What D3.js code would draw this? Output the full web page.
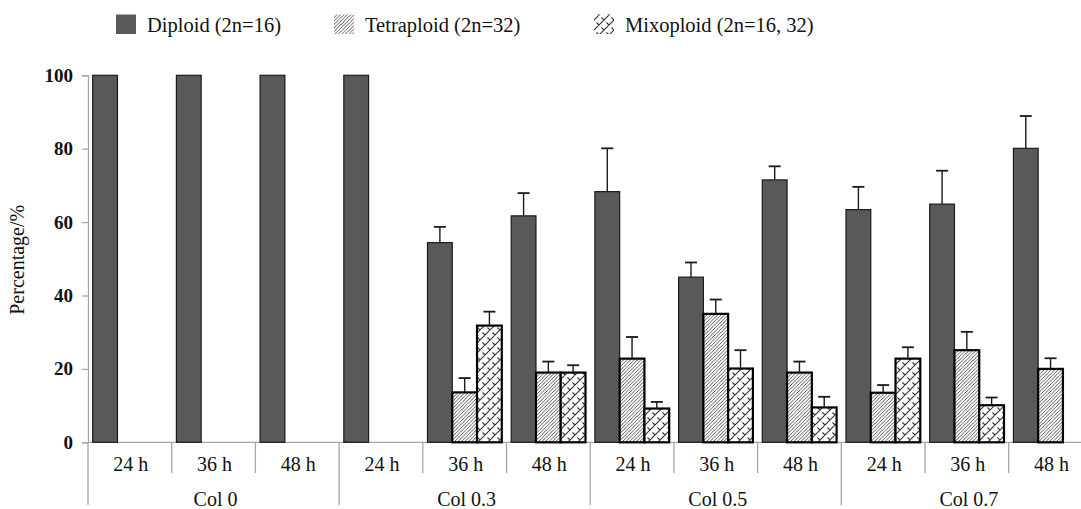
<!DOCTYPE html>
<html>
<head>
<meta charset="utf-8">
<script src="https://cdn.jsdelivr.net/npm/d3@7"></script>
<style>
  html, body { margin: 0; padding: 0; background: #fff; }
  svg { display: block; font-family: "Liberation Serif", "Times New Roman", serif; }
</style>
</head>
<body>
<svg id="chart" width="1081" height="509"></svg>
<script>
// Treatment groups and sampling times
const treatments = ["Col 0", "Col 0.3", "Col 0.5", "Col 0.7"];
const times = ["24 h", "36 h", "48 h"];
const seriesNames = ["Diploid (2n=16)", "Tetraploid (2n=32)", "Mixoploid (2n=16, 32)"];

// Percentages per (treatment, time), ordered Col0 24/36/48, Col0.3 24/36/48, ...
const diploid    = [100, 100, 100, 100, 54.4, 61.7, 68.3, 45.0, 71.5, 63.4, 64.9, 80.1];
const diploidErr = [0, 0, 0, 0, 4.3, 6.2, 11.8, 4.0, 3.7, 6.2, 9.1, 8.8];
const tetraploid    = [0, 0, 0, 0, 13.6, 19.0, 22.8, 35.0, 19.0, 13.5, 25.1, 20.0];
const tetraploidErr = [0, 0, 0, 0, 3.9, 3.0, 5.9, 3.9, 3.0, 2.1, 5.0, 2.9];
const mixoploid    = [0, 0, 0, 0, 31.8, 19.0, 9.2, 20.1, 9.5, 22.8, 10.1, 0];
const mixoploidErr = [0, 0, 0, 0, 3.8, 2.0, 1.8, 5.0, 2.9, 3.1, 2.1, 0];
const yTicks = [0, 20, 40, 60, 80, 100];

const svg = d3.select("#chart");

// Pattern fills for polyploid classes
const defs = svg.append("defs");
const hatch = defs.append("pattern")
  .attr("id", "hatchTetra").attr("patternUnits", "userSpaceOnUse")
  .attr("width", 3.5).attr("height", 3.5);
hatch.append("rect").attr("width", 3.5).attr("height", 3.5).attr("fill", "#fff");
hatch.append("path").attr("d", "M-0.9,0.9 L0.9,-0.9 M0,3.5 L3.5,0 M2.6,4.4 L4.4,2.6")
  .attr("stroke", "#3a3a3a").attr("stroke-width", 0.85);

const weave = defs.append("pattern")
  .attr("id", "weaveMixo").attr("patternUnits", "userSpaceOnUse")
  .attr("width", 10).attr("height", 10);
weave.append("rect").attr("width", 10).attr("height", 10).attr("fill", "#fff");
weave.append("path")
  .attr("d", "M0,10 L10,0 M-5,5 L5,-5 M5,15 L15,5 M2.5,2.5 L5,5 M7.5,7.5 L10,10 M0,0 L-2.5,-2.5 M-2.5,7.5 L0,10")
  .attr("stroke", "#333").attr("stroke-width", 1.1).attr("fill", "none");

// Scales
const margin = { left: 88, top: 75.3, bottom: 442.3 };
const groupKeys = d3.range(12);
const x = d3.scaleBand().domain(groupKeys).range([margin.left, 1092.4]).padding(0);
const xInner = d3.scaleBand().domain(d3.range(3)).range([0, x.bandwidth()])
  .paddingInner(0).paddingOuter(0.19);
const y = d3.scaleLinear().domain([0, 100]).range([margin.bottom, margin.top]);

// Y axis
const yAxis = svg.append("g").attr("transform", `translate(${margin.left},0)`)
  .call(d3.axisLeft(y).tickValues(yTicks).tickSize(6).tickPadding(9));
yAxis.select(".domain").attr("stroke", "#a6a6a6").attr("stroke-width", 1.3);
yAxis.selectAll(".tick line").attr("stroke", "#a6a6a6").attr("stroke-width", 1.3);
yAxis.selectAll(".tick text").attr("font-size", 19).attr("font-weight", "bold")
  .attr("fill", "#111").attr("font-family", "Liberation Serif, serif");

svg.append("text")
  .attr("transform", `translate(24,${(margin.top + margin.bottom) / 2 + 1}) rotate(-90)`)
  .attr("text-anchor", "middle").attr("font-size", 20).attr("fill", "#111")
  .text("Percentage/%");

// X axis: baseline, time ticks, treatment separators
const xg = svg.append("g");
xg.append("line").attr("x1", margin.left).attr("x2", 1092.4)
  .attr("y1", margin.bottom).attr("y2", margin.bottom)
  .attr("stroke", "#a6a6a6").attr("stroke-width", 1.3);
const boundaries = d3.range(13).map(i => i < 12 ? x(i) : x(11) + x.bandwidth());
xg.selectAll("line.sep").data(boundaries).join("line")
  .attr("class", "sep")
  .attr("x1", d => d).attr("x2", d => d)
  .attr("y1", margin.bottom)
  .attr("y2", (d, i) => i % 3 === 0 ? 505 : 473)
  .attr("stroke", "#a6a6a6").attr("stroke-width", 1.3);
xg.selectAll("text.time").data(groupKeys).join("text")
  .attr("class", "time")
  .attr("x", d => x(d) + x.bandwidth() / 2 + 1)
  .attr("y", 471)
  .attr("text-anchor", "middle").attr("font-size", 20).attr("fill", "#111")
  .text(d => times[d % 3]);
xg.selectAll("text.treat").data(treatments).join("text")
  .attr("class", "treat")
  .attr("x", (d, i) => (x(i * 3) + x(i * 3 + 2) + x.bandwidth()) / 2 + 2)
  .attr("y", 506)
  .attr("text-anchor", "middle").attr("font-size", 20).attr("fill", "#111")
  .text(d => d);

// Bars
const series = [
  { values: diploid, errs: diploidErr, fill: "#595959", stroke: "#1a1a1a", sw: 1.2 },
  { values: tetraploid, errs: tetraploidErr, fill: "url(#hatchTetra)", stroke: "#000", sw: 2.2 },
  { values: mixoploid, errs: mixoploidErr, fill: "url(#weaveMixo)", stroke: "#000", sw: 2.2 }
];
const barData = [];
series.forEach((s, si) => {
  s.values.forEach((v, gi) => {
    if (v > 0) barData.push({ si, gi, v, e: s.errs[gi], s });
  });
});

const bars = svg.append("g");
bars.selectAll("rect").data(barData).join("rect")
  .attr("x", d => x(d.gi) + xInner(d.si))
  .attr("y", d => y(d.v))
  .attr("width", xInner.bandwidth())
  .attr("height", d => y(0) - y(d.v))
  .attr("fill", d => d.s.fill)
  .attr("stroke", d => d.s.stroke)
  .attr("stroke-width", d => d.s.sw);

// Error bars (upper whisker only)
const errData = barData.filter(d => d.e > 0);
const eg = svg.append("g").attr("stroke", "#1a1a1a").attr("stroke-width", 1.4);
eg.selectAll("line.v").data(errData).join("line").attr("class", "v")
  .attr("x1", d => x(d.gi) + xInner(d.si) + xInner.bandwidth() / 2)
  .attr("x2", d => x(d.gi) + xInner(d.si) + xInner.bandwidth() / 2)
  .attr("y1", d => y(d.v)).attr("y2", d => y(d.v + d.e));
eg.selectAll("line.c").data(errData).join("line").attr("class", "c")
  .attr("x1", d => x(d.gi) + xInner(d.si) + xInner.bandwidth() / 2 - 6)
  .attr("x2", d => x(d.gi) + xInner(d.si) + xInner.bandwidth() / 2 + 6)
  .attr("y1", d => y(d.v + d.e)).attr("y2", d => y(d.v + d.e))
  .attr("stroke-width", 1.8);

// Legend
const legendItems = [
  { name: seriesNames[0], x: 116, fill: "#595959" },
  { name: seriesNames[1], x: 334, fill: "url(#hatchTetra)" },
  { name: seriesNames[2], x: 594, fill: "url(#weaveMixo)" }
];
const lg = svg.append("g");
const li = lg.selectAll("g").data(legendItems).join("g")
  .attr("transform", d => `translate(${d.x},0)`);
li.append("rect").attr("x", 0).attr("y", 14.5).attr("width", 20).attr("height", 19.5)
  .attr("fill", d => d.fill);
li.append("text").attr("x", 31).attr("y", 32)
  .attr("font-size", 20.5).attr("fill", "#111")
  .text(d => d.name);
</script>
</body>
</html>
